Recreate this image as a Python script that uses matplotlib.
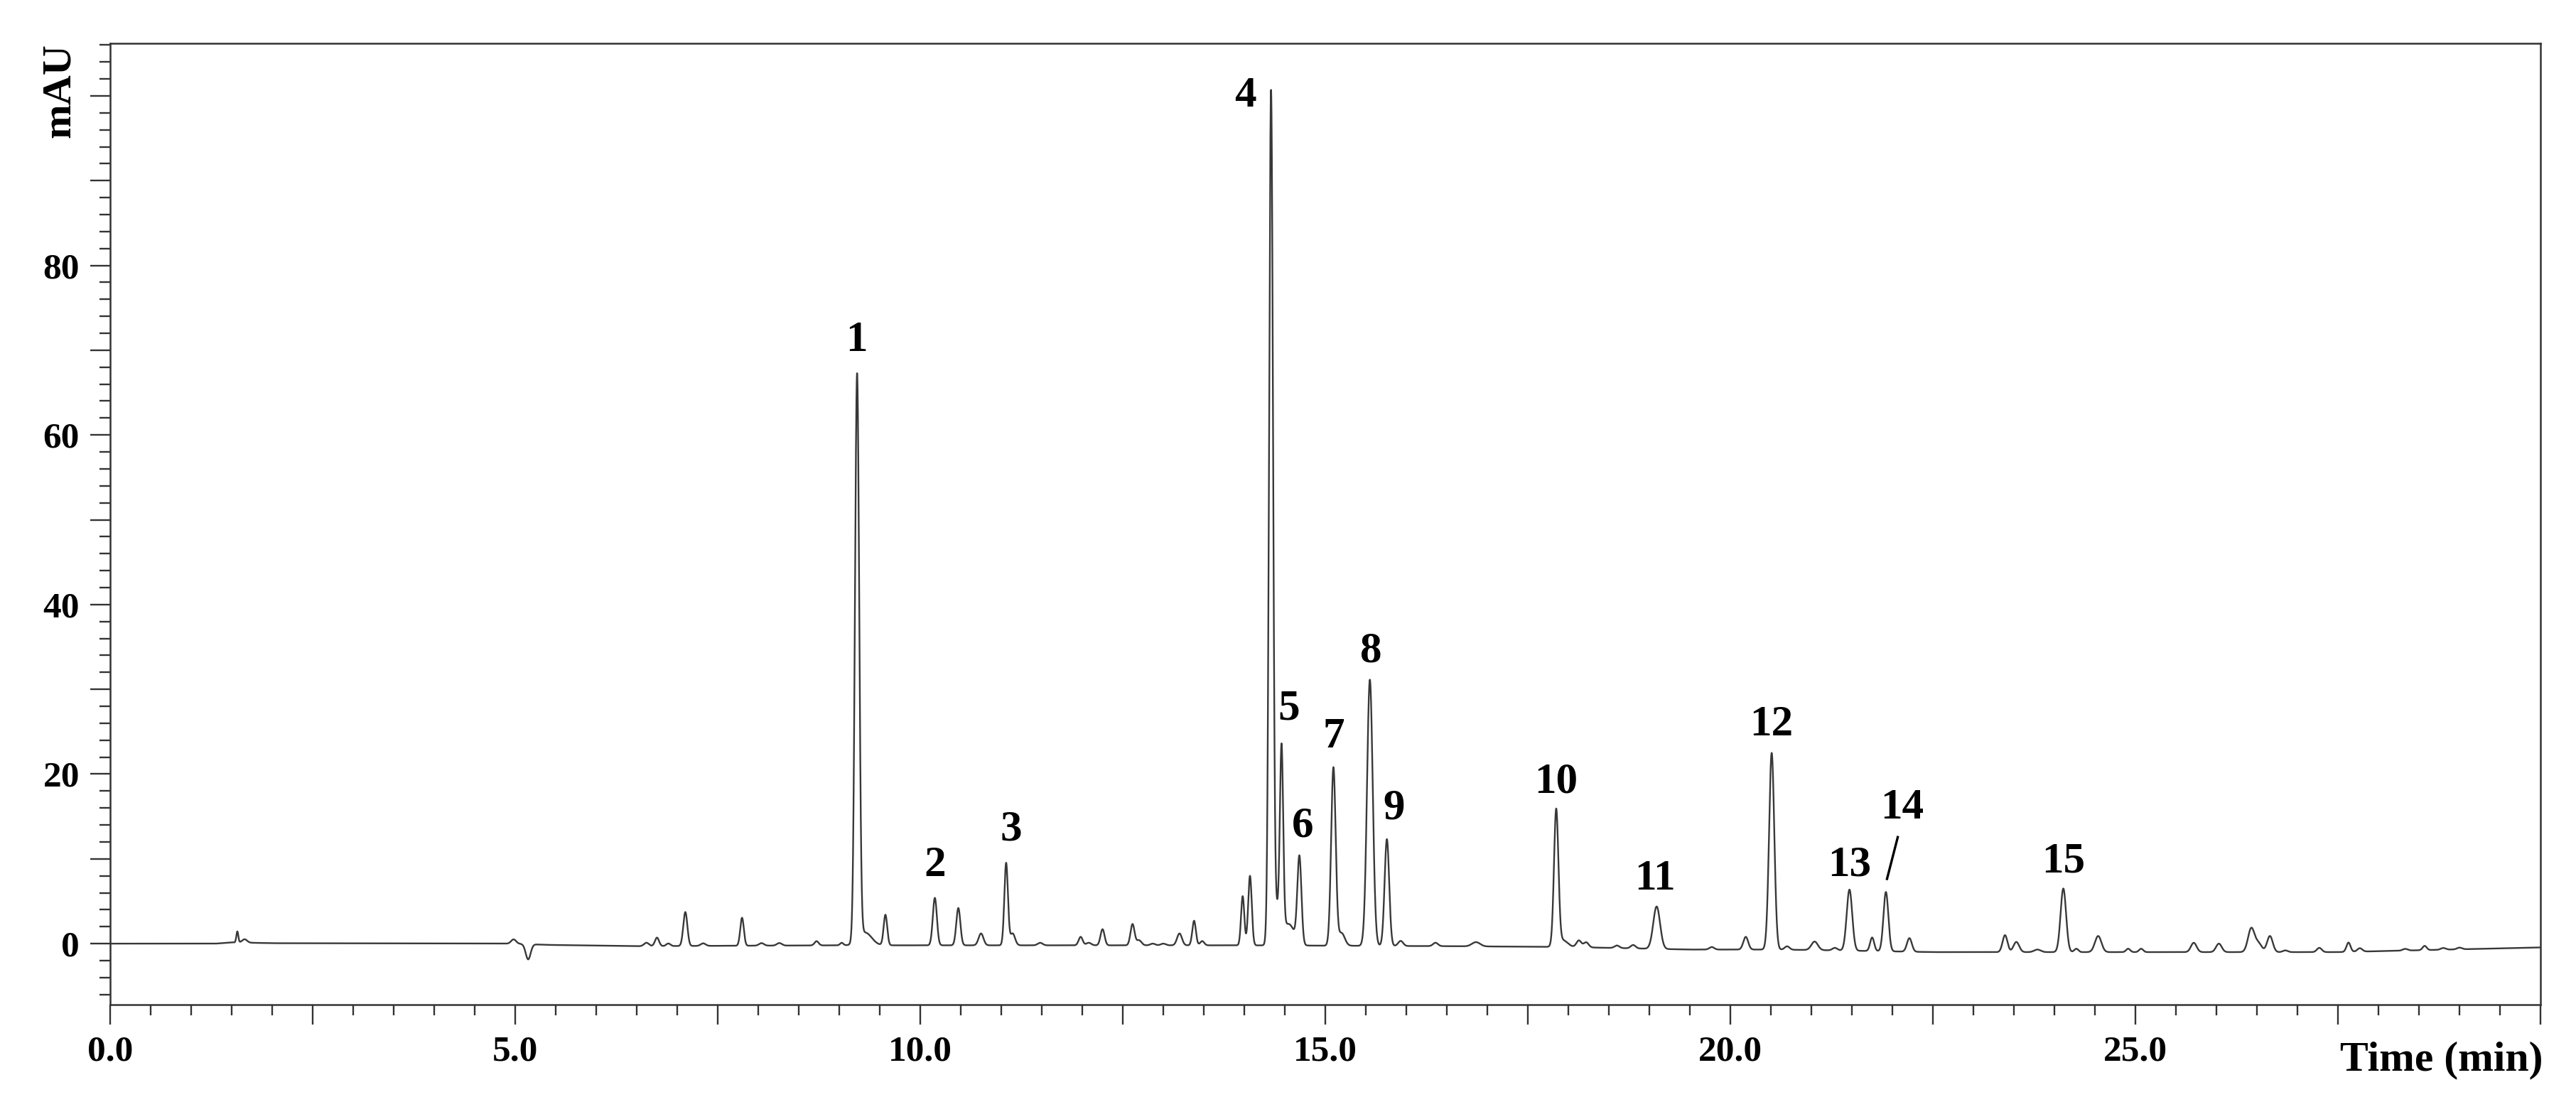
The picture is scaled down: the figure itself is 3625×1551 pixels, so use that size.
import numpy as np
import matplotlib
matplotlib.use("Agg")
import matplotlib.pyplot as plt
from matplotlib.ticker import FixedLocator, MultipleLocator, FuncFormatter

# ---- data ----
# peak table: retention time (min), height (mAU), width (sigma, min)
peak_time = [1.57, 1.66, 4.98, 5.16, 6.62, 6.75, 6.89, 7.10, 7.32, 7.80, 8.04, 8.26,
             8.72, 9.03, 9.22, 9.32, 9.57, 10.18, 10.47, 10.75, 11.06, 11.14, 11.48,
             11.98, 12.08, 12.25, 12.62, 12.70, 12.87, 13.00, 13.20, 13.38, 13.48,
             13.98, 14.07, 14.33, 14.40, 14.46, 14.55, 14.68, 15.10, 15.20, 15.55,
             15.76, 15.93, 16.36, 16.86, 17.85, 17.93, 18.13, 18.22, 18.60, 18.80,
             19.09, 19.77, 20.19, 20.51, 20.70, 21.04, 21.29, 21.47, 21.75, 21.92,
             22.21, 23.39, 23.53, 23.79, 24.11, 24.27, 24.54, 24.91, 25.07, 25.72,
             26.03, 26.43, 26.52, 26.66, 26.85, 27.27, 27.63, 27.77, 28.33, 28.57,
             28.80, 29.00]
peak_height = [1.3, 0.4, 0.5, -1.8, 0.4, 1.0, 0.3, 4.0, 0.3, 3.3, 0.3, 0.3,
               0.5, 0.3, 66.8, 1.5, 3.6, 5.6, 4.4, 1.4, 9.7, 1.4, 0.3,
               1.0, 0.3, 1.9, 2.5, 0.6, 0.2, 0.2, 1.4, 2.9, 0.5,
               5.8, 8.2, 99.4, 4.0, 20.8, 2.5, 10.2, 21.0, 1.5, 31.4,
               12.6, 0.6, 0.4, 0.5, 16.0, 0.8, 0.8, 0.6, 0.3, 0.4,
               5.0, 0.3, 1.5, 23.2, 0.4, 1.0, 0.3, 7.2, 1.6, 7.0,
               1.6, 2.0, 1.2, 0.3, 7.5, 0.4, 1.9, 0.4, 0.4, 1.1,
               1.0, 2.8, 1.0, 1.9, 0.2, 0.5, 1.1, 0.4, 0.2, 0.5,
               0.2, 0.2]
peak_sigma = [0.012, 0.03, 0.03, 0.03, 0.03, 0.025, 0.025, 0.025, 0.03, 0.022, 0.03, 0.03,
              0.025, 0.02, 0.026, 0.08, 0.022, 0.025, 0.025, 0.03, 0.022, 0.03, 0.03,
              0.025, 0.03, 0.025, 0.025, 0.03, 0.03, 0.03, 0.03, 0.022, 0.025,
              0.02, 0.022, 0.024, 0.05, 0.02, 0.07, 0.025, 0.028, 0.04, 0.035,
              0.028, 0.03, 0.03, 0.05, 0.027, 0.06, 0.03, 0.03, 0.03, 0.03,
              0.042, 0.03, 0.03, 0.032, 0.03, 0.04, 0.03, 0.034, 0.025, 0.03,
              0.03, 0.03, 0.035, 0.04, 0.034, 0.025, 0.04, 0.025, 0.025, 0.035,
              0.035, 0.04, 0.04, 0.035, 0.03, 0.03, 0.025, 0.03, 0.03, 0.025,
              0.03, 0.03]

# baseline drift (time, mAU)
base_time = [0.0, 1.3, 1.5, 2.0, 5.0, 5.4, 6.5, 9.0, 14.0, 16.5, 18.0, 19.5, 20.5, 21.0, 22.5, 27.5, 30.0]
base_level = [0.0, 0.0, 0.15, 0.05, 0.0, -0.15, -0.3, -0.2, -0.2, -0.3, -0.4, -0.7, -0.7, -0.75, -1.0, -1.0, -0.45]

# numbered peak labels: text, time, level (label centre)
label_text = ["1", "2", "3", "4", "5", "6", "7", "8", "9", "10", "11", "12", "13", "14", "15"]
label_time = [9.21, 10.18, 11.12, 14.01, 14.55, 14.72, 15.10, 15.56, 15.85, 17.85, 19.07, 20.51, 21.47, 22.12, 24.11]
label_level = [71.2, 9.2, 13.5, 100.0, 27.7, 13.9, 24.4, 34.5, 16.0, 19.1, 7.6, 25.8, 9.3, 16.0, 9.7]
# leader line for peak 14
leader_time = [21.93, 22.07]
leader_level = [7.5, 12.7]

x_ticks_major = [0, 2.5, 5, 7.5, 10, 12.5, 15, 17.5, 20, 22.5, 25, 27.5, 30]
x_tick_labels = {0: "0.0", 5: "5.0", 10: "10.0", 15: "15.0", 20: "20.0", 25: "25.0"}
y_ticks_major = [0, 10, 20, 30, 40, 50, 60, 70, 80, 90, 100]
y_tick_labels = {0: "0", 20: "20", 40: "40", 60: "60", 80: "80"}

# ---- build trace ----
t = np.linspace(0, 30, 30001)
signal = np.interp(t, base_time, base_level)
for tc, h, s in zip(peak_time, peak_height, peak_sigma):
    signal = signal + h * np.exp(-0.5 * ((t - tc) / s) ** 2)

FONT = ["Liberation Serif", "DejaVu Serif"]
plt.rcParams["font.family"] = FONT
plt.rcParams["font.weight"] = "bold"

fig = plt.figure(figsize=(36.25, 15.51), dpi=100)
ax = fig.add_axes([0.04276, 0.08833, 0.98621 - 0.04276, 0.96067 - 0.08833])

ax.plot(t, signal, color="#383838", lw=1.7, solid_joinstyle="round")

ax.set_xlim(0, 30)
ax.set_ylim(-7.2, 106.2)

ax.xaxis.set_major_locator(FixedLocator(x_ticks_major))
ax.xaxis.set_minor_locator(MultipleLocator(0.5))
ax.yaxis.set_major_locator(FixedLocator(y_ticks_major))
ax.yaxis.set_minor_locator(MultipleLocator(2))
ax.xaxis.set_major_formatter(FuncFormatter(lambda v, p: x_tick_labels.get(round(v, 1), "")))
ax.yaxis.set_major_formatter(FuncFormatter(lambda v, p: y_tick_labels.get(int(round(v)), "")))

ax.tick_params(axis="both", which="major", direction="out", length=20, width=1.7,
               colors="#333333", labelcolor="black", labelsize=37)
ax.tick_params(axis="both", which="minor", direction="out", length=11, width=1.7, colors="#333333")
ax.tick_params(axis="x", which="major", pad=11)
ax.tick_params(axis="y", which="major", pad=11)
for lab in ax.get_xticklabels() + ax.get_yticklabels():
    lab.set_fontweight("bold")

for sp in ax.spines.values():
    sp.set_linewidth(1.8)
    sp.set_color("#333333")

for txt, lt, lv in zip(label_text, label_time, label_level):
    ax.text(lt, lv, txt, ha="center", va="center", fontsize=44, fontweight="bold", color="black")

ax.plot(leader_time, leader_level, color="black", lw=2.4, solid_capstyle="butt")

fig.text(0.9872, 1 - 1492 / 1551, "Time (min)", ha="right", va="center", fontsize=43, fontweight="bold")
fig.text(84 / 3625, 1 - 128 / 1551, "mAU", ha="center", va="center", rotation=90, fontsize=42, fontweight="bold")

fig.savefig("out.png", dpi=100, facecolor="white")
